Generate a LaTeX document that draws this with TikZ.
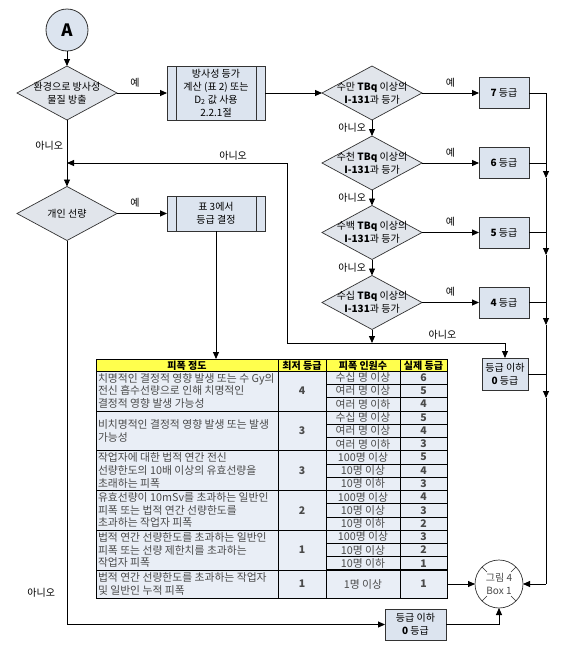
\documentclass[tikz,border=0pt]{standalone}
\usepackage{fontspec}
\setmainfont{Noto Sans CJK KR}
\usetikzlibrary{shapes.geometric,arrows.meta,calc}
\definecolor{boxfill}{HTML}{DCE4EF}
\definecolor{diafill}{HTML}{E1E5EB}
\definecolor{hdrfill}{HTML}{FFFF4D}
\definecolor{cellfill}{HTML}{E9EEF6}
\definecolor{txtgray}{HTML}{4A4A4A}
\definecolor{edgegray}{HTML}{333333}

\newcommand\tabgroup[5]{%
  \node[celltext, anchor=west] (#1t) at (98,{#2+19.9}) {#3};
  \node[cellnum] (#1m) at (302,{#2+19.9}) {#4};
  \foreach \p/\q [count=\k] in {#5} {
    \node[celltext] (#1p\k) at (363,{#2+(\k-0.5)*13.27}) {\p};
    \node[cellnum] (#1q\k) at (423.5,{#2+(\k-0.5)*13.27}) {\q};
  }
  \draw[grid] (326,{#2+13.27}) -- (447,{#2+13.27});
  \draw[grid] (326,{#2+26.53}) -- (447,{#2+26.53});
  \draw[grid] (96,{#2+39.8}) -- (447,{#2+39.8});
}

\begin{document}
\begin{tikzpicture}[x=1pt,y=-1pt,
 every node/.style={inner sep=0pt, outer sep=0pt},
 ft/.style={font=\fontsize{10}{13}\selectfont, align=center},
 dia/.style={diamond, draw=edgegray, fill=diafill, line width=0.7pt, minimum width=100pt, minimum height=54pt},
 pbox/.style={rectangle, draw=edgegray, fill=boxfill, line width=0.8pt, minimum width=98pt,
   path picture={\draw[edgegray, line width=0.8pt]
     ([xshift=9pt]path picture bounding box.north west) -- ([xshift=9pt]path picture bounding box.south west)
     ([xshift=-9pt]path picture bounding box.north east) -- ([xshift=-9pt]path picture bounding box.south east);}},
 gbox/.style={rectangle, draw=edgegray, fill=boxfill, line width=0.8pt, minimum width=50pt, minimum height=31pt, font=\fontsize{10}{13}\selectfont, align=center},
 lbl/.style={font=\fontsize{10}{12}\selectfont},
 arr/.style={line width=0.9pt, -{Triangle[length=7pt,width=6pt]}},
 ln/.style={line width=0.9pt},
 grid/.style={line width=0.6pt},
 hdr/.style={font=\fontsize{10}{12}\selectfont\bfseries},
 celltext/.style={font=\fontsize{10.8}{12.6}\selectfont, text=txtgray, align=left},
 cellnum/.style={font=\fontsize{10.5}{12}\selectfont\bfseries, text=txtgray},
]
\useasboundingbox (0,0) rectangle (576,651);
\fill[white] (0,0) rectangle (576,651);

% start
\node[circle, draw=edgegray, fill=boxfill, minimum size=42pt, line width=0.8pt, font=\fontsize{17}{17}\selectfont\bfseries] (A) at (67,30) {A};

% left diamonds
\node[dia] (d1) at (67,93) {};
\node[ft] (d1t) at (d1) {환경으로 방사성\\물질 방출};
\node[dia] (d6) at (67,213.5) {};
\node[ft] (d6t) at (d6) {개인 선량};

% process boxes
\node[pbox, minimum height=54pt, ft] (b1) at (216,93) {방사성 등가\\계산 (표 2) 또는\\D\textsubscript{2} 값 사용\\2.2.1절};
\node[pbox, minimum height=35pt, ft] (b2) at (216,213.5) {표 3에서\\등급 결정};

% right diamonds
\node[dia] (d2) at (372,93) {};
\node[ft] (d2t) at (d2) {수만 \textbf{TBq} 이상의\\\textbf{I-131}과 등가};
\node[dia] (d3) at (372,163) {};
\node[ft] (d3t) at (d3) {수천 \textbf{TBq} 이상의\\\textbf{I-131}과 등가};
\node[dia] (d4) at (372,232.5) {};
\node[ft] (d4t) at (d4) {수백 \textbf{TBq} 이상의\\\textbf{I-131}과 등가};
\node[dia] (d5) at (372,302.5) {};
\node[ft] (d5t) at (d5) {수십 \textbf{TBq} 이상의\\\textbf{I-131}과 등가};

% grade boxes
\node[gbox] (g7) at (504,93) {\textbf{7} 등급};
\node[gbox] (g6) at (504,163) {\textbf{6} 등급};
\node[gbox] (g5) at (504,232.5) {\textbf{5} 등급};
\node[gbox] (g4) at (504,302.5) {\textbf{4} 등급};
\node[gbox, minimum width=46pt, minimum height=32pt] (g0a) at (505,374) {등급 이하\\\textbf{0} 등급};
\node[gbox, minimum width=61pt, minimum height=31pt] (g0b) at (415.5,624.5) {등급 이하\\\textbf{0} 등급};

% end connector
\node[circle, draw=edgegray, fill=white, minimum size=48pt, line width=0.7pt, ft, text=txtgray] (cB) at (499,584) {그림 4\\Box 1};
\foreach \a in {45,135,225,315}
  \draw[edgegray, line width=0.6pt] ($(cB.center)+(\a:17pt)$) -- ($(cB.center)+(\a:24pt)$);

% table
\node[draw, line width=0.9pt, fill=cellfill, minimum width=351pt, minimum height=239pt] (tbl) at (271.5,478.5) {};
\fill[hdrfill] (96,359) rectangle (447,371);
\draw[grid] (96,371) -- (447,371);
\foreach \xx in {278,326,400} \draw[grid] (\xx,359) -- (\xx,598);
\node[hdr] (h1) at (187,365.5) {피폭 정도};
\node[hdr] (h2) at (302,365.5) {최저 등급};
\node[hdr] (h3) at (363,365.5) {피폭 인원수};
\node[hdr] (h4) at (423.5,365.5) {실제 등급};

\tabgroup{ga}{371}{치명적인 결정적 영향 발생 또는 수 Gy의\\전신 흡수선량으로 인해 치명적인\\결정적 영향 발생 가능성}{4}{수십 명 이상/6, 여러 명 이상/5, 여러 명 이하/4}
\tabgroup{gb}{410.8}{비치명적인 결정적 영향 발생 또는 발생\\가능성}{3}{수십 명 이상/5, 여러 명 이상/4, 여러 명 이하/3}
\tabgroup{gc}{450.6}{작업자에 대한 법적 연간 전신\\선량한도의 10배 이상의 유효선량을\\초래하는 피폭}{3}{100명 이상/5, 10명 이상/4, 10명 이하/3}
\tabgroup{gd}{490.4}{유효선량이 10mSv를 초과하는 일반인\\피폭 또는 법적 연간 선량한도를\\초과하는 작업자 피폭}{2}{100명 이상/4, 10명 이상/3, 10명 이하/2}
\tabgroup{ge}{530.2}{법적 연간 선량한도를 초과하는 일반인\\피폭 또는 선량 제한치를 초과하는\\작업자 피폭}{1}{100명 이상/3, 10명 이상/2, 10명 이하/1}
\draw[line width=1.4pt] (326,530.2) -- (447,530.2);
\draw[line width=1.4pt] (326,570) -- (447,570);
\node[celltext, anchor=west] (gft) at (98,584) {법적 연간 선량한도를 초과하는 작업자\\및 일반인 누적 피폭};
\node[cellnum] (gfm) at (302,584) {1};
\node[celltext] (gfp) at (363,584) {1명 이상};
\node[cellnum] (gfq) at (423.5,584) {1};
\draw[line width=0.9pt] (tbl.north west) rectangle (tbl.south east);

% coordinates
\coordinate (j) at (372,343);
\coordinate (jl) at (287,343);
\coordinate (jt) at (287,163);
\coordinate (ret) at (67,163);
\coordinate (jr) at (505,343);
\coordinate (c1) at (67,624.5);
\coordinate (v7) at (546,93);
\coordinate (a1) at (546,178);
\coordinate (a2) at (546,255);
\coordinate (a3) at (546,325);
\coordinate (a4) at (546,398);
\coordinate (vb) at (546,584);

% connectors
\draw[arr] (A.south) -- (d1.north);
\draw[arr] (d1.east) -- node[lbl, above=6pt, pos=0.36]{예} (b1.west);
\draw[arr] (b1.east) -- (d2.west);
\draw[arr] (d2.east) -- node[lbl, above=6pt]{예} (g7.west);
\draw[arr] (d3.east) -- node[lbl, above=6pt]{예} (g6.west);
\draw[arr] (d4.east) -- node[lbl, above=6pt]{예} (g5.west);
\draw[arr] (d5.east) -- node[lbl, above=6pt]{예} (g4.west);
\draw[arr] (d2.south) -- node[lbl, left=6pt]{아니오} (d3.north);
\draw[arr] (d3.south) -- node[lbl, left=6pt]{아니오} (d4.north);
\draw[arr] (d4.south) -- node[lbl, left=6pt]{아니오} (d5.north);
\draw[arr] (d5.south) -- (j);
\draw[arr] (j) -- (jl) -- (jt) -- node[lbl, above=3pt, pos=0.245]{아니오} (ret);
\draw[arr] (j) -- node[lbl, above=4pt, pos=0.53]{아니오} (jr) -- (g0a.north);
\draw[arr] (d1.south) -- node[lbl, left=4pt, pos=0.39]{아니오} (d6.north);
\draw[arr] (d6.east) -- node[lbl, above=6pt, pos=0.36]{예} (b2.west);
\draw[arr] (b2.south) -- (b2.south |- tbl.north);
\draw[arr] (d6.south) -- node[lbl, left=12pt, pos=0.918]{아니오} (c1) -- (g0b.west);
\draw[arr] (g0b.east) -| (cB.south);
\draw[arr] (tbl.east |- cB.west) -- (cB.west);

\draw[ln] (g7.east) -- (v7);
\draw[ln] (g6.east) -- (g6.east -| v7);
\draw[ln] (g5.east) -- (g5.east -| v7);
\draw[ln] (g4.east) -- (g4.east -| v7);
\draw[ln] (g0a.east) -- (g0a.east -| v7);
\draw[arr] (v7) -- (a1);
\draw[arr] (a1) -- (a2);
\draw[arr] (a2) -- (a3);
\draw[arr] (a3) -- (a4);
\draw[ln] (a4) -- (vb);
\draw[arr] (vb) -- (cB.east);
\end{tikzpicture}
\end{document}
